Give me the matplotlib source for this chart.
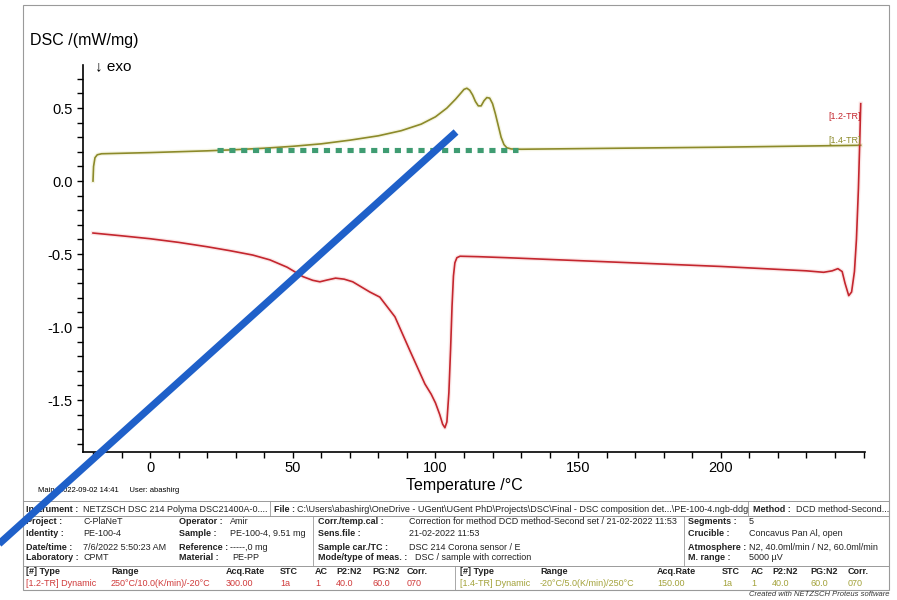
import matplotlib
matplotlib.use("Agg")
import matplotlib.pyplot as plt
import matplotlib.patheffects as pe
from matplotlib.lines import Line2D
from matplotlib.ticker import MultipleLocator, FixedLocator, FuncFormatter

plt.rcParams['font.family'] = ['Liberation Sans', 'DejaVu Sans']

# heating curve [1.4-TR], -20 -> 250 C
heat_t = [-20, -19.8, -19.3, -18.5, -17, 0, 20, 30, 40, 50, 60, 70, 80, 88, 95, 100,
          104, 107, 109, 110, 111, 112, 113, 114, 115, 116, 117, 118, 119, 120, 121, 122,
          123, 124, 125, 126.5, 130, 150, 200, 249]
heat_dsc = [0.00, 0.10, 0.16, 0.18, 0.187, 0.195, 0.207, 0.215, 0.225, 0.238, 0.255,
            0.28, 0.31, 0.345, 0.39, 0.44, 0.50, 0.56, 0.605, 0.628, 0.636, 0.622, 0.59,
            0.545, 0.515, 0.515, 0.55, 0.572, 0.568, 0.53, 0.46, 0.38, 0.30, 0.25, 0.228,
            0.22, 0.218, 0.222, 0.232, 0.245]

# cooling curve [1.2-TR], 250 -> -20 C
cool_t = [-20, -10, 0, 10, 20, 28, 36, 42, 48, 53.6, 57, 59.5, 62, 65, 68, 71, 77, 80.5,
          85.8, 91, 96.3, 98.5, 100, 101.5, 102.5, 103.3, 104, 104.7, 105.3, 105.8, 106.3,
          106.8, 107.5, 108.6, 115, 125, 150, 200, 220, 230, 236, 239, 241, 242.5, 243.5,
          244.8, 245.8, 246.8, 247.5, 248.2, 248.7, 249]
cool_dsc = [-0.356, -0.375, -0.395, -0.42, -0.45, -0.477, -0.507, -0.54, -0.59, -0.655,
            -0.68, -0.69, -0.678, -0.665, -0.672, -0.69, -0.76, -0.795, -0.93, -1.16,
            -1.39, -1.46, -1.52, -1.60, -1.665, -1.69, -1.65, -1.45, -1.15, -0.86, -0.65,
            -0.56, -0.525, -0.515, -0.518, -0.525, -0.545, -0.585, -0.605, -0.615, -0.625,
            -0.615, -0.60, -0.62, -0.70, -0.785, -0.76, -0.62, -0.40, -0.05, 0.30, 0.53]

# hand-drawn marks over the screenshot
baseline_t = [23.5, 129]
baseline_dsc = [0.212, 0.212]
stroke_t = [107.2, -60]
stroke_dsc = [0.336, -2.61]

red = '#c4262e'
olive = '#8c8a2a'

fig = plt.figure(figsize=(8.97, 6), dpi=100)
ax = fig.add_axes([83 / 897, 1 - 452 / 600, 782 / 897, 387 / 600])
ax.set_zorder(10)
ax.patch.set_visible(False)

glow = lambda c: [pe.Stroke(linewidth=3, foreground=c, alpha=0.25), pe.Normal()]
ax.plot(heat_t, heat_dsc, color=olive, lw=1.2, path_effects=glow('#d8d890'))
ax.plot(cool_t, cool_dsc, color=red, lw=1.2, path_effects=glow('#f0a0a0'))

ax.plot(baseline_t, baseline_dsc, color='#3f9c72', lw=3.7, dashes=(1.2, 1.1),
        dash_capstyle='butt')
ax.plot(stroke_t, stroke_dsc, color='#1f60c9', lw=5.2, solid_capstyle='butt',
        clip_on=False, zorder=20)

ax.text(249, 0.44, '[1.2-TR]', color=red, fontsize=6.5, ha='right', va='center')
ax.text(249, 0.275, '[1.4-TR]', color=olive, fontsize=6.5, ha='right', va='center')

ax.set_xlim(-23.5, 250.5)
ax.set_ylim(-1.856, 0.795)
for s in ['top', 'right']:
    ax.spines[s].set_visible(False)
for s in ['left', 'bottom']:
    ax.spines[s].set_linewidth(1.2)
ax.xaxis.set_major_locator(FixedLocator([0, 50, 100, 150, 200]))
ax.xaxis.set_minor_locator(MultipleLocator(10))
ax.yaxis.set_major_locator(MultipleLocator(0.5))
ax.yaxis.set_minor_locator(MultipleLocator(0.1))
ax.yaxis.set_major_formatter(FuncFormatter(lambda v, p: '%.1f' % v))
ax.tick_params(which='both', direction='out', length=4, width=1, labelsize=10.5)
ax.tick_params(axis='x', pad=2.5)
ax.set_xlabel('Temperature /°C', fontsize=11.5)
ax.xaxis.set_label_coords(0.488, -0.068)

fig.text(30 / 897, 1 - 40 / 600, 'DSC /(mW/mg)', fontsize=11.5, va='center')
fig.text(95 / 897, 1 - 66 / 600, '↓ exo', fontsize=11, va='center')
fig.text(38 / 897, 1 - 490 / 600, 'Main  2022-09-02 14:41     User: abashirg',
         fontsize=5.5, va='center')

# frame around the export
border = '#9a9a9a'
fig.add_artist(plt.Rectangle((23 / 897, 1 - 590 / 600), 866 / 897, 585 / 600,
                             fill=False, ec=border, lw=0.8))
for yy in [501, 516, 566]:
    fig.add_artist(Line2D([23 / 897, 889 / 897], [1 - yy / 600] * 2, color=border, lw=0.7))
for xx, y0, y1 in [(270, 501, 516), (748, 501, 516), (313, 516, 566), (684, 516, 566),
                   (455, 566, 590)]:
    fig.add_artist(Line2D([xx / 897] * 2, [1 - y0 / 600, 1 - y1 / 600], color=border, lw=0.6))

fs = 6.5
bold_labels = [
    (26, 510, 'Instrument :'), (274, 510, 'File :'), (753, 510, 'Method :'),
    (26, 522, 'Project :'), (179, 522, 'Operator :'), (318, 522, 'Corr./temp.cal :'), (688, 522, 'Segments :'),
    (26, 534, 'Identity :'), (179, 534, 'Sample :'), (318, 534, 'Sens.file :'), (688, 534, 'Crucible :'),
    (26, 547, 'Date/time :'), (179, 547, 'Reference :'), (318, 547, 'Sample car./TC :'), (688, 547, 'Atmosphere :'),
    (26, 558, 'Laboratory :'), (179, 558, 'Material :'), (318, 558, 'Mode/type of meas. :'), (688, 558, 'M. range :'),
]
plain_values = [
    (83, 510, 'NETZSCH DSC 214 Polyma DSC21400A-0....'),
    (297, 510, 'C:\\Users\\abashirg\\OneDrive - UGent\\UGent PhD\\Projects\\DSC\\Final - DSC composition det...\\PE-100-4.ngb-ddg'),
    (796, 510, 'DCD method-Second...'),
    (83, 522, 'C-PlaNeT'), (230, 522, 'Amir'),
    (409, 522, 'Correction for method DCD method-Second set / 21-02-2022 11:53'), (749, 522, '5'),
    (83, 534, 'PE-100-4'), (230, 534, 'PE-100-4, 9.51 mg'), (409, 534, '21-02-2022 11:53'),
    (749, 534, 'Concavus Pan Al, open'),
    (83, 547, '7/6/2022 5:50:23 AM'), (230, 547, '-----,0 mg'), (409, 547, 'DSC 214 Corona sensor / E'),
    (749, 547, 'N2, 40.0ml/min / N2, 60.0ml/min'),
    (83, 558, 'CPMT'), (232, 558, 'PE-PP'), (415, 558, 'DSC / sample with correction'),
    (749, 558, '5000 µV'),
]
for x, y, s in bold_labels:
    fig.text(x / 897, 1 - y / 600, s, fontsize=fs, fontweight='bold', va='center', color='#222222')
for x, y, s in plain_values:
    fig.text(x / 897, 1 - y / 600, s, fontsize=fs, va='center', color='#222222')

seg_header = ['[#] Type', 'Range', 'Acq.Rate', 'STC', 'AC', 'P2:N2', 'PG:N2', 'Corr.']
seg_cool = ['[1.2-TR] Dynamic', '250°C/10.0(K/min)/-20°C', '300.00', '1a', '1', '40.0', '60.0', '070']
seg_heat = ['[1.4-TR] Dynamic', '-20°C/5.0(K/min)/250°C', '150.00', '1a', '1', '40.0', '60.0', '070']
cols_cool = [26, 111, 226, 280, 315, 336, 372, 407]
cols_heat = [460, 540, 657, 722, 751, 772, 810, 848]
for cols, row, c in [(cols_cool, seg_cool, '#d03a3a'), (cols_heat, seg_heat, '#a3a23a')]:
    for x, h, v in zip(cols, seg_header, row):
        fig.text(x / 897, 1 - 572 / 600, h, fontsize=fs, fontweight='bold', va='center', color='#222222')
        fig.text(x / 897, 1 - 583 / 600, v, fontsize=fs, va='center', color=c)

fig.text(889 / 897, 1 - 594 / 600, 'Created with NETZSCH Proteus software', fontsize=5.5,
         style='italic', ha='right', va='center', color='#333333')

fig.savefig('out.png', dpi=100)
